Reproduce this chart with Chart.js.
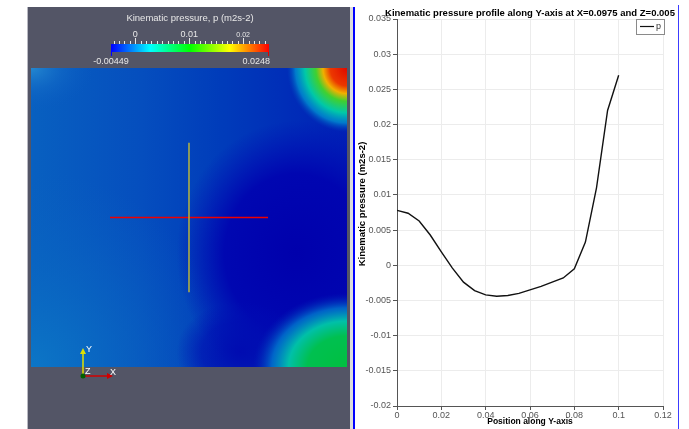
<!DOCTYPE html>
<html>
<head>
<meta charset="utf-8">
<script src="https://cdn.jsdelivr.net/npm/chart.js@4.4.0/dist/chart.umd.min.js"></script>
<style>
  html, body { margin: 0; padding: 0; background: #fff; }
  body { width: 689px; height: 429px; position: relative; overflow: hidden; font-family: "Liberation Sans", Arial, sans-serif; }
  .abs { position: absolute; }
  #panelIzq { left: 27px; top: 7px; width: 323px; height: 422px; background: #535566; }
  #bordeIzq { left: 27px; top: 7px; width: 1px; height: 422px; background: #b9b9c2; }
  #franja { left: 350px; top: 7px; width: 3px; height: 422px; background: #dcdcdc; }
  #azulIzq { left: 353px; top: 7px; width: 2px; height: 422px; background: #0000ff; }
  #azulDer { left: 678px; top: 5px; width: 1px; height: 424px; background: #3c3cff; }
  #campo { left: 27px; top: 7px; }
  #perfil { left: 356px; top: 0px; }
</style>
</head>
<body>
<div id="panelIzq" class="abs"></div>
<div id="bordeIzq" class="abs"></div>
<div id="franja" class="abs"></div>
<div id="azulIzq" class="abs"></div>
<div id="azulDer" class="abs"></div>
<canvas id="campo" class="abs" width="323" height="422"></canvas>
<canvas id="perfil" class="abs" width="322" height="429"></canvas>

<script>
// === Datos del perfil ===
const posiciones = [0, 0.005, 0.01, 0.015, 0.02, 0.025, 0.03, 0.035, 0.04, 0.045, 0.05,
                    0.055, 0.06, 0.065, 0.07, 0.075, 0.08, 0.085, 0.09, 0.095, 0.1];
const presion = [0.0078, 0.0074, 0.0063, 0.0043, 0.0019, -0.0004, -0.0024, -0.0036, -0.0042, -0.0044, -0.0043,
                 -0.0040, -0.0035, -0.0030, -0.0024, -0.0018, -0.0005, 0.0033, 0.011, 0.022, 0.027];
const xTicks = [0, 0.02, 0.04, 0.06, 0.08, 0.1, 0.12];
const yTicks = [-0.02, -0.015, -0.01, -0.005, 0, 0.005, 0.01, 0.015, 0.02, 0.025, 0.03, 0.035];

// === Datos de la vista 3D ===
const rangoColor = [-0.00449, 0.0248];
const ticksColor = [0, 0.01, 0.02];
const sondaY = [{ x: 0.5, y: 0.25 }, { x: 0.5, y: 0.75 }];
const sondaX = [{ x: 0.25, y: 0.5 }, { x: 0.75, y: 0.5 }];

const fmt = v => String(+v.toFixed(5));
const fuente = '"Liberation Sans", Arial, sans-serif';

// === Vista del campo de presión ===
function mancha(ctx, cx, cy, rx, ry, stops) {
  ctx.save();
  ctx.translate(cx, cy);
  ctx.scale(1, ry / rx);
  const g = ctx.createRadialGradient(0, 0, 0, 0, 0, rx);
  stops.forEach(([o, c]) => g.addColorStop(o, c));
  ctx.fillStyle = g;
  ctx.fillRect(-2000, -2000, 4000, 4000);
  ctx.restore();
}

const pintarCampo = {
  id: 'pintarCampo',
  beforeDatasetsDraw(chart) {
    const ctx = chart.ctx, a = chart.chartArea;
    const W = a.right - a.left, H = a.bottom - a.top;
    ctx.save();
    ctx.beginPath();
    ctx.rect(a.left, a.top, W, H);
    ctx.clip();

    const base = ctx.createLinearGradient(a.left, 0, a.right, 0);
    base.addColorStop(0, '#0860c0');
    base.addColorStop(0.35, '#054ebe');
    base.addColorStop(0.6, '#003cba');
    base.addColorStop(1, '#0020b6');
    ctx.fillStyle = base;
    ctx.fillRect(a.left, a.top, W, H);

    mancha(ctx, a.left, a.bottom, 0.62 * W, 0.62 * W, [[0, 'rgba(12,118,198,1)'], [0.5, 'rgba(10,104,194,0.6)'], [1, 'rgba(10,96,192,0)']]);
    mancha(ctx, a.left + 0.84 * W, a.top + 0.62 * H, 0.38 * W, 0.42 * W, [[0, 'rgba(0,0,172,1)'], [0.6, 'rgba(0,2,176,0.9)'], [1, 'rgba(0,10,180,0)']]);
    mancha(ctx, a.left + 0.66 * W, a.bottom - 0.05 * H, 0.2 * W, 0.16 * W, [[0, 'rgba(0,8,176,0.9)'], [0.6, 'rgba(0,10,178,0.6)'], [1, 'rgba(0,14,180,0)']]);
    mancha(ctx, a.left, a.top, 0.2 * W, 0.14 * W, [[0, 'rgba(36,136,208,1)'], [0.5, 'rgba(20,108,200,0.5)'], [1, 'rgba(10,90,194,0)']]);

    // esquina inferior derecha
    mancha(ctx, a.right, a.bottom, 94, 74, [[0, '#00c040'], [0.42, '#00c050'], [0.62, '#00c0a8'], [0.8, 'rgba(0,130,208,0.75)'], [1, 'rgba(0,40,186,0)']]);
    // esquina superior derecha
    mancha(ctx, a.right, a.top, 60, 64, [[0, '#e00800'], [0.28, '#ec3800'], [0.4, '#f0b000'], [0.52, '#40d030'], [0.7, '#00c8a8'], [0.86, 'rgba(0,150,210,0.75)'], [1, 'rgba(0,80,192,0)']]);
    ctx.restore();

    // barra de colores
    const x0 = 84, x1 = 242, y0 = 37, y1 = 45;
    const g = ctx.createLinearGradient(x0, 0, x1, 0);
    ['#0000ff', '#00ffff', '#00ff00', '#ffff00', '#ff0000'].forEach((c, i) => g.addColorStop(i / 4, c));
    ctx.fillStyle = g;
    ctx.fillRect(x0, y0, x1 - x0, y1 - y0);
    const xv = v => x0 + (x1 - x0) * (v - rangoColor[0]) / (rangoColor[1] - rangoColor[0]);
    ctx.strokeStyle = '#e8e8e8';
    ctx.lineWidth = 1;
    for (let k = -4; k <= 24; k++) {
      const x = Math.round(xv(k / 1000)) + 0.5;
      const largo = k % 10 === 0 ? 6 : 3;
      ctx.beginPath();
      ctx.moveTo(x, y0);
      ctx.lineTo(x, y0 - largo);
      ctx.stroke();
    }
    ctx.fillStyle = '#e8e8e8';
    ctx.textAlign = 'center';
    ctx.textBaseline = 'middle';
    ctx.font = '9.5px ' + fuente;
    ctx.fillText('Kinematic pressure, p (m2s-2)', 163, 11);
    ticksColor.forEach(v => {
      ctx.font = (v === 0.02 ? '7px ' : '9px ') + fuente;
      ctx.fillText(fmt(v), xv(v), 28);
    });
    ctx.font = '9px ' + fuente;
    ctx.fillText(fmt(rangoColor[0]), x0, 55);
    ctx.textAlign = 'right';
    ctx.fillText(fmt(rangoColor[1]), x1 + 1, 55);
    ctx.fillStyle = '#0000ff';
    ctx.fillRect(x0, y1, 1, 4);
    ctx.fillStyle = '#e00000';
    ctx.fillRect(x1 - 1, y1, 1, 4);
  },
  afterDraw(chart) {
    // triada de ejes
    const ctx = chart.ctx;
    const ox = 56, oy = 369;
    ctx.save();
    ctx.lineWidth = 1.5;
    ctx.strokeStyle = '#e0e000';
    ctx.beginPath(); ctx.moveTo(ox, oy); ctx.lineTo(ox, oy - 24); ctx.stroke();
    ctx.fillStyle = '#e0e000';
    ctx.beginPath(); ctx.moveTo(ox - 3, oy - 22); ctx.lineTo(ox + 3, oy - 22); ctx.lineTo(ox, oy - 28); ctx.fill();
    ctx.strokeStyle = '#d00000';
    ctx.beginPath(); ctx.moveTo(ox, oy); ctx.lineTo(ox + 26, oy); ctx.stroke();
    ctx.fillStyle = '#d00000';
    ctx.beginPath(); ctx.moveTo(ox + 24, oy - 3); ctx.lineTo(ox + 24, oy + 3); ctx.lineTo(ox + 30, oy); ctx.fill();
    ctx.fillStyle = '#006000';
    ctx.beginPath(); ctx.arc(ox, oy, 2.5, 0, Math.PI * 2); ctx.fill();
    ctx.fillStyle = '#ffffff';
    ctx.font = '9px ' + fuente;
    ctx.textBaseline = 'middle';
    ctx.textAlign = 'left';
    ctx.fillText('Y', ox + 3, oy - 26);
    ctx.fillText('Z', ox + 2, oy - 4);
    ctx.fillText('X', ox + 27, oy - 3);
    ctx.restore();
  }
};

new Chart(document.getElementById('campo'), {
  type: 'scatter',
  data: {
    datasets: [
      { data: sondaY, showLine: true, borderColor: '#d4c82a', borderWidth: 1.3, pointRadius: 0 },
      { data: sondaX, showLine: true, borderColor: '#f00000', borderWidth: 1.5, pointRadius: 0 }
    ]
  },
  options: {
    responsive: false,
    animation: false,
    layout: { padding: { left: 4, right: 3, top: 61, bottom: 62 } },
    plugins: { legend: { display: false }, tooltip: { enabled: false } },
    scales: {
      x: { type: 'linear', min: 0, max: 1, display: false },
      y: { type: 'linear', min: 0, max: 1, display: false }
    }
  },
  plugins: [pintarCampo]
});

// === Gráfico del perfil ===
const tituloPerfil = 'Kinematic pressure profile along Y-axis at X=0.0975 and Z=0.005';
const tituloEjeY = 'Kinematic pressure (m2s-2)';

const extrasPerfil = {
  id: 'extrasPerfil',
  afterDraw(chart) {
    const ctx = chart.ctx, a = chart.chartArea;
    ctx.save();
    ctx.fillStyle = '#000';
    ctx.font = 'bold 9.5px ' + fuente;
    ctx.textAlign = 'center';
    ctx.textBaseline = 'middle';
    ctx.fillText(tituloPerfil, (a.left + a.right) / 2, 13);

    // título del eje Y
    ctx.save();
    ctx.translate(6, 204);
    ctx.rotate(-Math.PI / 2);
    ctx.fillText(tituloEjeY, 0, 0);
    ctx.restore();

    // leyenda
    const ds = chart.data.datasets[0];
    ctx.fillStyle = '#fff';
    ctx.fillRect(280.5, 19.5, 28, 15);
    ctx.strokeStyle = '#8a8a8a';
    ctx.lineWidth = 1;
    ctx.strokeRect(280.5, 19.5, 28, 15);
    ctx.strokeStyle = ds.borderColor;
    ctx.lineWidth = 1.2;
    ctx.beginPath(); ctx.moveTo(284, 26.5); ctx.lineTo(298, 26.5); ctx.stroke();
    ctx.fillStyle = '#333';
    ctx.font = '9px ' + fuente;
    ctx.textAlign = 'left';
    ctx.fillText(ds.label, 300, 27);
    ctx.restore();
  }
};

new Chart(document.getElementById('perfil'), {
  type: 'line',
  data: {
    datasets: [{
      label: 'p',
      data: posiciones.map((x, i) => ({ x: x, y: presion[i] })),
      borderColor: '#111',
      borderWidth: 1.4,
      pointRadius: 0,
      tension: 0,
      fill: false
    }]
  },
  options: {
    responsive: false,
    animation: false,
    layout: { padding: { top: 19, right: 15, left: 0, bottom: 0 } },
    plugins: { legend: { display: false }, title: { display: false }, tooltip: { enabled: false } },
    scales: {
      x: {
        type: 'linear', min: 0, max: 0.12,
        afterBuildTicks: s => { s.ticks = xTicks.map(v => ({ value: v })); },
        afterFit: s => { s.height = 23; },
        grid: { color: '#ececec', tickColor: '#555', tickLength: 4 },
        border: { color: '#555', width: 1 },
        ticks: { color: '#555', font: { family: fuente, size: 9 }, padding: 0, maxRotation: 0, callback: v => fmt(v) },
        title: { display: true, text: 'Position along Y-axis', color: '#000', font: { family: fuente, size: 8.5, weight: 'bold' }, padding: { top: 0, bottom: 2 } }
      },
      y: {
        type: 'linear', min: -0.02, max: 0.035,
        afterBuildTicks: s => { s.ticks = yTicks.map(v => ({ value: v })); },
        afterFit: s => { s.width = 41; },
        grid: { color: '#ececec', tickColor: '#555', tickLength: 4 },
        border: { color: '#555', width: 1 },
        ticks: { color: '#555', font: { family: fuente, size: 9 }, padding: 2, callback: v => fmt(v) }
      }
    }
  },
  plugins: [extrasPerfil]
});
</script>
</body>
</html>
